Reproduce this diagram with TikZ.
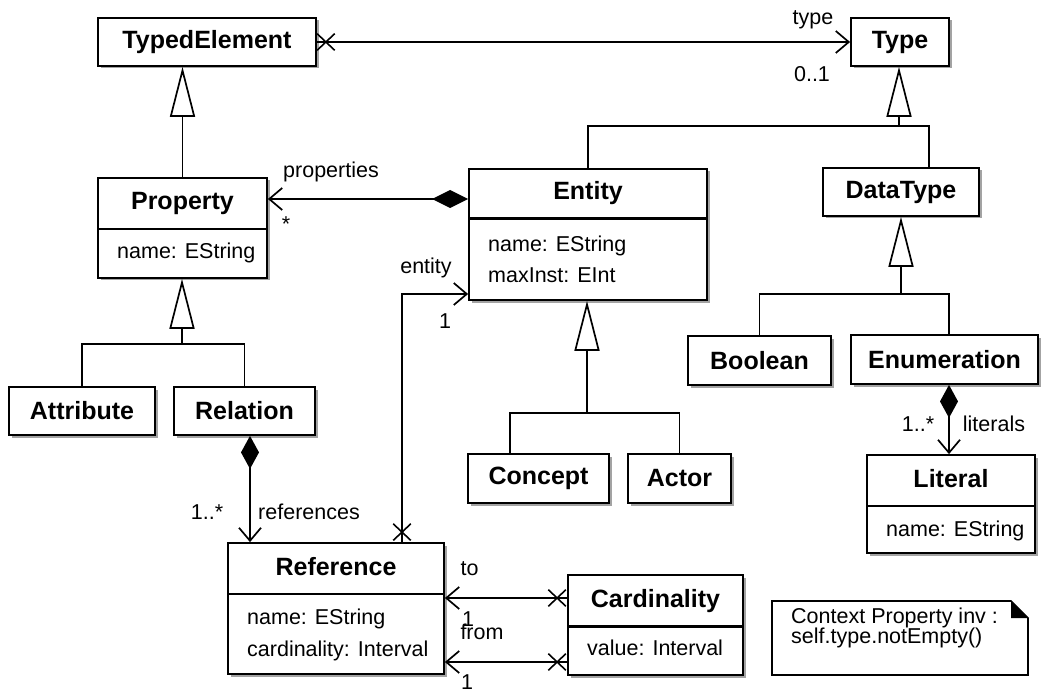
\documentclass[tikz,border=0pt]{standalone}
\usepackage{fontspec}
\setmainfont{Liberation Sans}
\usetikzlibrary{arrows.meta,shadows,shapes.misc,calc}
\begin{document}
\begin{tikzpicture}[x=1pt,y=-1pt,
  box/.style={draw, fill=white, line width=1.8pt, inner sep=0pt,
    font=\bfseries\fontsize{25}{28}\selectfont,
    drop shadow={shadow xshift=2.5pt, shadow yshift=-2.5pt, fill=black!45, opacity=0.8}},
  ttl/.style={font=\bfseries\fontsize{25}{28}\selectfont, inner sep=0pt, text height=18pt, text depth=5pt},
  attr/.style={font=\fontsize{21.5}{24}\selectfont, inner sep=0pt, anchor=west, text height=16pt, text depth=5pt},
  lbl/.style={font=\fontsize{21.5}{24}\selectfont, inner sep=0pt, text height=16pt, text depth=5pt},
  conn/.style={line width=1.7pt},
  divider/.style={line width=1.8pt},
  thickdiv/.style={line width=3pt},
  gen/.style={conn, -{Triangle[length=50pt, width=25pt, fill=white]}},
  nav/.style={conn, -{Straight Barb[length=13pt, width=22pt]}},
  comp/.style={conn, {Diamond[length=#1, width=18pt]}-{Straight Barb[length=13pt, width=22pt]}},
  xmark/.style={cross out, draw, line width=1.6pt, minimum width=16pt, minimum height=15pt, inner sep=0pt}
]
\useasboundingbox (0,0) rectangle (1042,695);

% ---------- classes ----------
\node[box, minimum width=218pt, minimum height=48pt] (te) at (207,42) {TypedElement};
\node[box, minimum width=98pt, minimum height=48pt] (type) at (900,42) {Type};

\node[box, minimum width=169pt, minimum height=100pt] (prop) at (182.5,228) {};
\draw[divider] (prop.west |- 0,229) -- (prop.east |- 0,229);
\node[ttl] (prop-t) at (182.5,203.5) {Property};
\node[attr] (prop-a) at (117,253) {name: EString};

\node[box, minimum width=238pt, minimum height=131pt] (ent) at (588,234.5) {};
\draw[thickdiv] (ent.west |- 0,219) -- (ent.east |- 0,219);
\node[ttl] (ent-t) at (588,193.5) {Entity};
\node[attr] (ent-a1) at (488,246) {name: EString};
\node[attr] (ent-a2) at (488,277) {maxInst: EInt};

\node[box, minimum width=156pt, minimum height=48pt] (dt) at (901,192) {DataType};

\node[box, minimum width=146pt, minimum height=48pt] (attr) at (82,411) {Attribute};
\node[box, minimum width=141pt, minimum height=48pt] (rel) at (244.5,411) {Relation};

\node[box, minimum width=143pt, minimum height=49pt] (bool) at (759.5,360.5) {Boolean};
\node[box, minimum width=187pt, minimum height=49pt] (enum) at (944.5,359.5) {Enumeration};

\node[box, minimum width=168pt, minimum height=98pt] (lit) at (951,504) {};
\draw[divider] (lit.west |- 0,506) -- (lit.east |- 0,506);
\node[ttl] (lit-t) at (951,480.5) {Literal};
\node[attr] (lit-a) at (886,531) {name: EString};

\node[box, minimum width=141pt, minimum height=49pt] (conc) at (538.5,478.5) {Concept};
\node[box, minimum width=103pt, minimum height=49pt] (actor) at (679.5,478.5) {Actor};

\node[box, minimum width=216pt, minimum height=131pt] (ref) at (336,608.5) {};
\draw[divider] (ref.west |- 0,594) -- (ref.east |- 0,594);
\node[ttl] (ref-t) at (336,568.5) {Reference};
\node[attr] (ref-a1) at (247,619) {name: EString};
\node[attr] (ref-a2) at (247,651) {cardinality: Interval};

\node[box, minimum width=175pt, minimum height=100pt] (card) at (655.5,625) {};
\draw[thickdiv] (card.west |- 0,626) -- (card.east |- 0,626);
\node[ttl] (card-t) at (655.5,600.5) {Cardinality};
\node[attr] (card-a) at (587,650) {value: Interval};

% ---------- note ----------
\draw[line width=1.6pt, fill=white] (772,601) -- (1011,601) -- (1028,618) -- (1028,675) -- (772,675) -- cycle;
\fill (1011,601) -- (1011,618) -- (1028,618) -- cycle;
\node[attr] (note-1) at (791,618) {Context Property inv :};
\node[attr] (note-2) at (791,638) {self.type.notEmpty()};

% ---------- type association ----------
\draw[nav] (te.east) -- (type.west);
\node[xmark] (x-te) at ($(te.east)+(9,0)$) {};
\node[lbl] (l-type) at (813,19) {type};
\node[lbl] (l-01) at (812,76) {0..1};

% ---------- generalizations ----------
\draw[gen] (prop.north) -- (prop.north |- te.south);

\coordinate (j1) at (899,126);
\draw[conn] (ent.north) |- (j1) -| ($(dt.north)+(28,0)$);
\draw[gen] (j1) -- (j1 |- type.south);

\coordinate (j2) at (901,294);
\draw[conn] (bool.north) |- (j2) -| ($(enum.north)+(4.5,0)$);
\draw[gen] (j2) -- (j2 |- dt.south);

\coordinate (j3) at (182,344);
\draw[conn] (attr.north) |- (j3) -| (rel.north);
\draw[gen] (j3) -- (j3 |- prop.south);

\coordinate (j4) at (587,413);
\draw[conn] ($(conc.north)+(-28.5,0)$) |- (j4) -| (actor.north);
\draw[gen] (j4) -- (j4 |- ent.south);

% ---------- properties ----------
\coordinate (py) at (0,199);
\draw[comp=36pt] (ent.west |- py) -- (prop.east |- py);
\node[lbl] (l-props) at (331,172) {properties};
\node[lbl] (l-star) at (286,226) {*};

% ---------- entity ----------
\coordinate (ey) at (0,294);
\draw[nav] ($(ref.north)+(66,0)$) |- (ent.west |- ey);
\node[xmark] (x-ent) at ($(ref.north)+(66,-10)$) {};
\node[lbl] (l-entity) at (426,268) {entity};
\node[lbl] (l-e1) at (445,323) {1};

% ---------- references ----------
\draw[comp=33pt] ($(rel.south)+(5.5,0)$) -- ($(ref.north)+(-86,0)$);
\node[lbl] (l-r1) at (207,514) {1..*};
\node[lbl] (l-refs) at (309,514) {references};

% ---------- to / from ----------
\coordinate (toy) at (0,598);
\coordinate (fry) at (0,662);
\draw[nav] (card.west |- toy) -- (ref.east |- toy);
\node[xmark] (x-to) at ($(card.west |- toy)+(-10,0)$) {};
\draw[nav] (card.west |- fry) -- (ref.east |- fry);
\node[xmark] (x-from) at ($(card.west |- fry)+(-10,0)$) {};
\node[lbl] (l-to) at (469.5,570) {to};
\node[lbl] (l-to1) at (468,621) {1};
\node[lbl] (l-from) at (482,634) {from};
\node[lbl] (l-from1) at (467,684) {1};

% ---------- literals ----------
\draw[comp=33pt] ($(enum.south)+(4.5,0)$) -- ($(lit.north)+(-2,0)$);
\node[lbl] (l-l1) at (918,426) {1..*};
\node[lbl] (l-lits) at (994,426) {literals};
\end{tikzpicture}
\end{document}
